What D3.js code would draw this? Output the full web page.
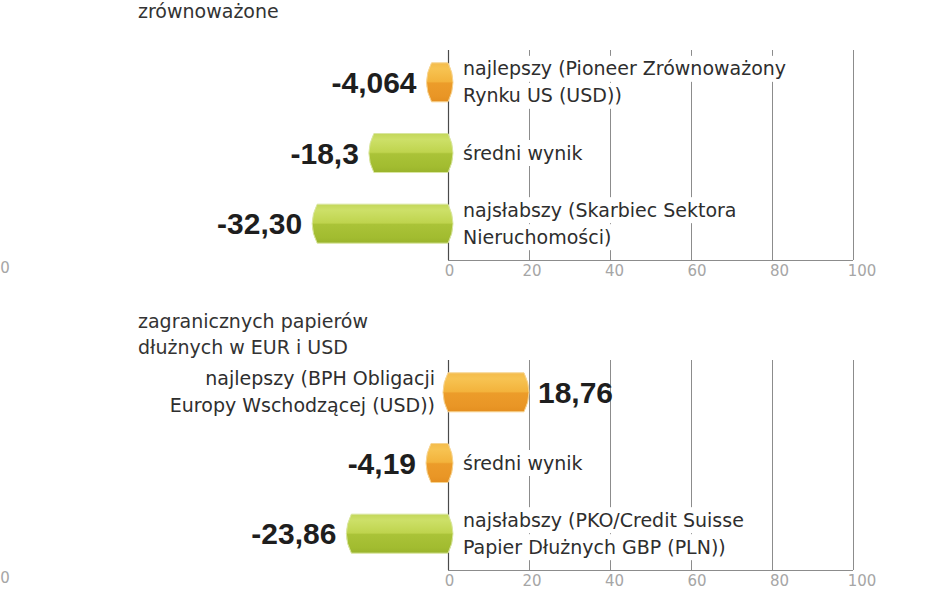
<!DOCTYPE html>
<html>
<head>
<meta charset="utf-8">
<script src="https://cdn.jsdelivr.net/npm/d3@7"></script>
<style>
  html, body { margin: 0; padding: 0; background: #fff; }
  svg { display: block; }
</style>
</head>
<body>
<svg id="chart" width="948" height="593"></svg>
<script>
// ---- data ----
const tickValues = [0, 20, 40, 60, 80, 100];
const tickLabels = ["0", "20", "40", "60", "80", "100"];

const panel1Title = ["zrównoważone"];
const panel1Labels = [
  ["najlepszy (Pioneer Zrównoważony", "Rynku US (USD))"],
  ["średni wynik"],
  ["najsłabszy (Skarbiec Sektora", "Nieruchomości)"]
];
const panel1Values = [-4.064, -18.3, -32.30];
const panel1ValueText = ["-4,064", "-18,3", "-32,30"];
const panel1Kinds = ["orange", "green", "green"];

const panel2Title = ["zagranicznych papierów", "dłużnych w EUR i USD"];
const panel2Labels = [
  ["najlepszy (BPH Obligacji", "Europy Wschodzącej (USD))"],
  ["średni wynik"],
  ["najsłabszy (PKO/Credit Suisse", "Papier Dłużnych GBP (PLN))"]
];
const panel2Values = [18.76, -4.19, -23.86];
const panel2ValueText = ["18,76", "-4,19", "-23,86"];
const panel2Kinds = ["orange", "orange", "green"];

// ---- drawing ----
const svg = d3.select("#chart");
const defs = svg.append("defs");

function grad(id, stops) {
  const g = defs.append("linearGradient").attr("id", id)
    .attr("x1", 0).attr("y1", 0).attr("x2", 0).attr("y2", 1);
  stops.forEach(s => g.append("stop").attr("offset", s[0]).attr("stop-color", s[1]));
}
grad("g-green", [[0, "#c3d75a"], [0.15, "#cde068"], [0.48, "#bfd44e"], [0.52, "#aac338"], [0.85, "#a2bc30"], [1, "#9ab42c"]]);
grad("g-orange", [[0, "#f4bc4c"], [0.15, "#f7c352"], [0.48, "#f3b33c"], [0.52, "#ec9c2a"], [0.85, "#e99626"], [1, "#e48f20"]]);

const x = d3.scaleLinear().domain([0, 100]).range([448, 853]);

const LABEL_FONT = "'DejaVu Sans', sans-serif";
const VALUE_FONT = "'Liberation Sans', Arial, sans-serif";
const LABEL_SIZE = 19;

function panel(cfg) {
  const g = svg.append("g");
  const y = d3.scalePoint().domain([0, 1, 2]).range([cfg.gridTop - 3, cfg.base - 1]).padding(0.5);
  const barH = 39;

  // title
  const t = g.append("text")
    .attr("x", 138).attr("y", cfg.titleY)
    .attr("font-family", LABEL_FONT).attr("font-size", LABEL_SIZE)
    .attr("fill", "#333");
  cfg.title.forEach((line, i) => {
    t.append("tspan").attr("x", 138).attr("dy", i === 0 ? 0 : 26).text(line);
  });

  // grid lines
  const grid = d3.axisBottom(x).tickValues(tickValues.slice(1))
    .tickSize(-(cfg.base - cfg.gridTop)).tickFormat("");
  const gg = g.append("g").attr("transform", `translate(0,${cfg.base})`).call(grid);
  gg.select(".domain").remove();
  gg.selectAll(".tick line").attr("stroke", "#8c8c8c").attr("stroke-width", 1);

  // baseline
  g.append("line")
    .attr("x1", x(0)).attr("x2", x(100))
    .attr("y1", cfg.base + 0.5).attr("y2", cfg.base + 0.5)
    .attr("stroke", "#8c8c8c");

  // tick labels
  const ax = d3.axisBottom(x).tickValues(tickValues).tickSize(0)
    .tickFormat((d, i) => tickLabels[i]);
  const ag = g.append("g").attr("transform", `translate(0,${cfg.base})`).call(ax);
  ag.select(".domain").remove();
  ag.selectAll(".tick text")
    .attr("font-family", LABEL_FONT).attr("font-size", 15)
    .attr("fill", "#a6a6a6").attr("dy", "0.85em")
    .attr("dx", (d, i) => i * 1.5 + 1);

  // category labels with white boxes
  cfg.labels.forEach((lines, i) => {
    const v = cfg.values[i];
    const pos = v >= 0;
    const lx = pos ? x(0) - 13 : x(0) + 15;
    const cy = y(i);
    const n = lines.length;
    lines.forEach((line, j) => {
      const ly = cy + (j - (n - 1) / 2) * 27;
      const txt = g.append("text")
        .attr("x", lx).attr("y", ly).attr("dy", "0.35em")
        .attr("text-anchor", pos ? "end" : "start")
        .attr("font-family", LABEL_FONT).attr("font-size", LABEL_SIZE)
        .attr("fill", "#2e2e2e").text(line);
      const bb = txt.node().getBBox();
      g.insert("rect", () => txt.node())
        .attr("x", bb.x - 3).attr("y", ly - 13)
        .attr("width", bb.width + 6).attr("height", 26)
        .attr("fill", "#fff");
    });
  });

  // zero line
  g.append("line")
    .attr("x1", x(0) + 0.5).attr("x2", x(0) + 0.5)
    .attr("y1", cfg.gridTop).attr("y2", cfg.base)
    .attr("stroke", "#4a4a4a").attr("stroke-width", 1.2);

  // bars
  cfg.values.forEach((v, i) => {
    const xa = Math.min(x(0), x(v));
    const xb = Math.max(x(0), x(v));
    const yt = y(i) - barH / 2, yb = y(i) + barH / 2, ym = y(i);
    const k = 10;
    const p = `M${xa},${yt} L${xb},${yt} Q${xb + k},${ym} ${xb},${yb} L${xa},${yb} Q${xa - k},${ym} ${xa},${yt} Z`;
    g.append("path").attr("d", p)
      .attr("fill", `url(#g-${cfg.kinds[i]})`)
      .attr("stroke", cfg.kinds[i] === "green" ? "#d9e6a0" : "#f7d491")
      .attr("stroke-width", 1);
    // value label
    const pos = v >= 0;
    g.append("text")
      .attr("x", pos ? x(v) + 14 : x(v) - 15)
      .attr("y", y(i)).attr("dy", "0.36em")
      .attr("text-anchor", pos ? "start" : "end")
      .attr("font-family", VALUE_FONT).attr("font-weight", "bold")
      .attr("font-size", 30).attr("fill", "#1e1e1e")
      .text(cfg.valueText[i]);
  });

  // trailing digit of the neighbouring chart's axis, visible at the left edge
  g.append("text")
    .attr("x", 5).attr("y", cfg.base).attr("dy", "0.85em")
    .attr("text-anchor", "middle")
    .attr("font-family", LABEL_FONT).attr("font-size", 15)
    .attr("fill", "#a6a6a6").text("0");
}

panel({
  title: panel1Title, titleY: 18, gridTop: 50, base: 260,
  labels: panel1Labels, values: panel1Values, valueText: panel1ValueText, kinds: panel1Kinds
});
panel({
  title: panel2Title, titleY: 328, gridTop: 360, base: 570,
  labels: panel2Labels, values: panel2Values, valueText: panel2ValueText, kinds: panel2Kinds
});
</script>
</body>
</html>
